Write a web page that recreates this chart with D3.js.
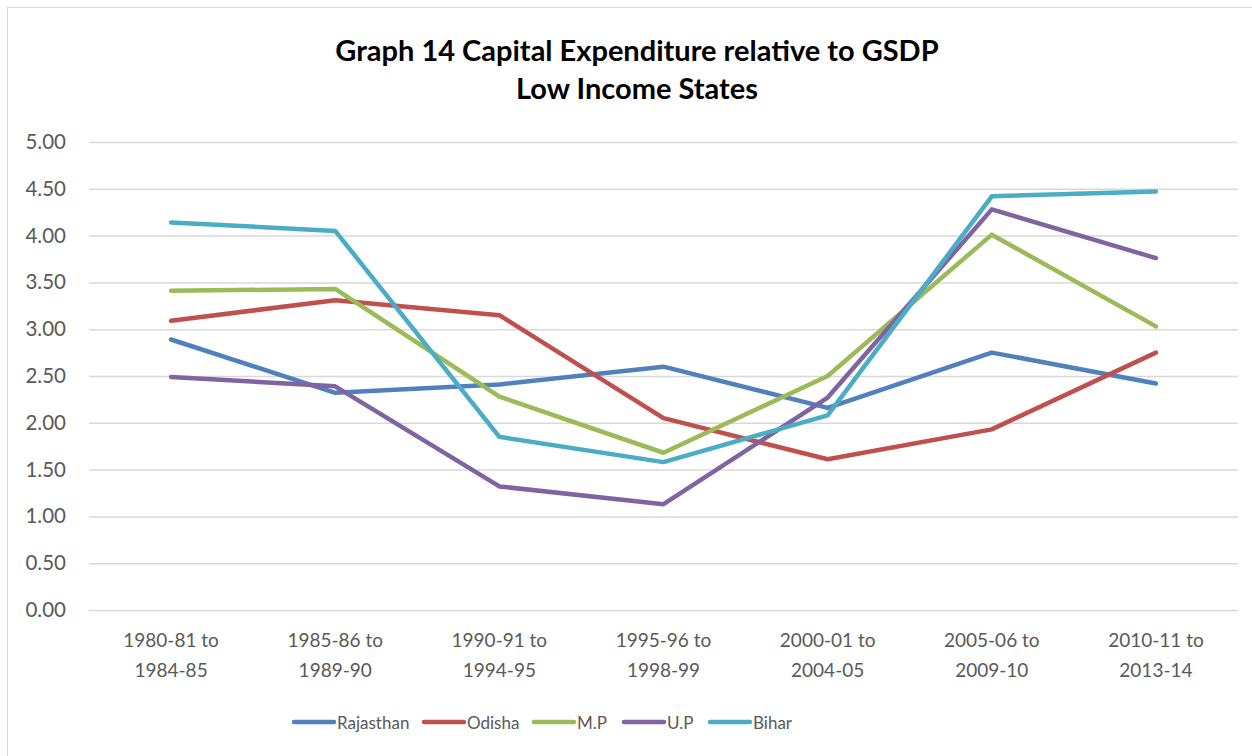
<!DOCTYPE html>
<html><head><meta charset="utf-8">
<script src="https://cdn.jsdelivr.net/npm/d3@7"></script>
<style>body{margin:0;background:#fff}svg{display:block}text{font-family:Lato,"Open Sans",sans-serif}</style>
</head><body><svg id="c" width="1252" height="756"></svg>
<script>
const categories = [["1980-81 to","1984-85"],["1985-86 to","1989-90"],["1990-91 to","1994-95"],["1995-96 to","1998-99"],["2000-01 to","2004-05"],["2005-06 to","2009-10"],["2010-11 to","2013-14"]];
const seriesNames = ["Rajasthan","Odisha","M.P","U.P","Bihar"];
const rajasthan = [2.89,2.32,2.41,2.60,2.16,2.75,2.42];
const odisha = [3.09,3.31,3.15,2.05,1.61,1.93,2.75];
const mp = [3.41,3.43,2.28,1.68,2.50,4.01,3.03];
const up = [2.49,2.39,1.32,1.13,2.27,4.28,3.76];
const bihar = [4.14,4.05,1.85,1.58,2.08,4.42,4.47];
const yTicks = [0,0.5,1,1.5,2,2.5,3,3.5,4,4.5,5];
const colors = ["#4F81BD","#C0504D","#9BBB59","#8064A2","#4BACC6"];
const seriesData = [rajasthan, odisha, mp, up, bihar];

const svg = d3.select("#c");
svg.append("rect").attr("x",7.5).attr("y",7.5).attr("width",1260).attr("height",760)
  .attr("fill","none").attr("stroke","#d9d9d9").attr("stroke-width",1);

const pLeft=89, pRight=1238, pTop=142, pBottom=610;
const x = d3.scaleBand().domain(d3.range(categories.length)).range([pLeft,pRight]);
const y = d3.scaleLinear().domain([0,5]).range([pBottom,pTop]);

const title = svg.append("text").attr("text-anchor","middle")
  .attr("font-weight","bold").attr("font-size",29).attr("fill","#000");
title.append("tspan").attr("x",637).attr("y",61).text("Graph 14 Capital Expenditure relative to GSDP");
title.append("tspan").attr("x",637).attr("y",99).text("Low Income States");

const yAxis = d3.axisLeft(y).tickValues(yTicks).tickFormat(d3.format(".2f")).tickSize(-(pRight-pLeft)).tickPadding(23);
const gy = svg.append("g").attr("transform",`translate(${pLeft},0)`).call(yAxis);
gy.select(".domain").remove();
gy.selectAll(".tick line").attr("stroke","#d9d9d9").attr("stroke-width",1.5);
gy.selectAll(".tick text").attr("font-size",20.5).attr("fill","#595959").attr("font-family","Lato,'Open Sans',sans-serif");

const xl = svg.append("g");
categories.forEach((c,i)=>{
  const cx = x(i)+x.bandwidth()/2;
  const t = xl.append("text").attr("text-anchor","middle").attr("font-size",19).attr("fill","#595959");
  t.append("tspan").attr("x",cx).attr("y",647).text(c[0]);
  t.append("tspan").attr("x",cx).attr("y",677).text(c[1]);
});

const line = d3.line().x((d,i)=>x(i)+x.bandwidth()/2).y(d=>y(d));
seriesData.forEach((s,k)=>{
  svg.append("path").datum(s).attr("d",line).attr("fill","none").attr("stroke",colors[k])
    .attr("stroke-width",4.5).attr("stroke-linecap","round").attr("stroke-linejoin","round");
});

const legendX = [294,424,534,624,710];
const lg = svg.append("g");
seriesNames.forEach((n,k)=>{
  lg.append("line").attr("x1",legendX[k]).attr("x2",legendX[k]+40).attr("y1",722).attr("y2",722)
    .attr("stroke",colors[k]).attr("stroke-width",4.5).attr("stroke-linecap","round");
  lg.append("text").attr("x",legendX[k]+43).attr("y",728.5).attr("font-size",17).attr("fill","#595959").text(n);
});
</script></body></html>
